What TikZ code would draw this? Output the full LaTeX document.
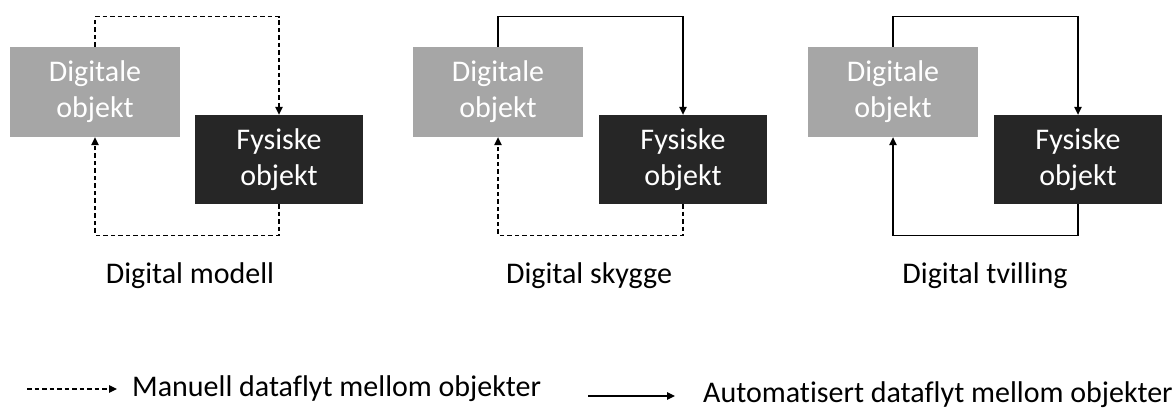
\documentclass[tikz,border=0pt]{standalone}
\usepackage{fontspec}
\setmainfont{Carlito}[Ligatures=NoCommon]
\usetikzlibrary{arrows.meta}
\definecolor{boxgray}{HTML}{A6A6A6}
\definecolor{boxdark}{HTML}{262626}
\begin{document}
\begin{tikzpicture}[x=1pt,y=-1pt,
  txt/.style={font=\fontsize{30}{36}\selectfont},
  digbox/.style={fill=boxgray,text=white,minimum width=170pt,minimum height=90pt,inner sep=0pt,align=center,txt},
  fysbox/.style={fill=boxdark,text=white,minimum width=168pt,minimum height=89pt,inner sep=0pt,align=center,txt},
  auto flow/.style={line width=1.1pt,-{Triangle[length=8pt,width=7.5pt]}},
  manual flow/.style={auto flow,dash pattern=on 4.5pt off 3pt},
  lbl/.style={txt,inner sep=0pt,anchor=base}
]
\useasboundingbox (0,0) rectangle (1176,409);
\fill[white] (0,0) rectangle (1176,409);

% panel 1
\node[digbox] (g1) at (95,92) {Digitale\\objekt};
\node[fysbox] (f1) at (279,159.5) {Fysiske\\objekt};
\draw[manual flow] (g1.north) -- ++(0,-30) -| (f1.north);
\draw[manual flow] (f1.south) -- ++(0,31) -| (g1.south);
\node[lbl] (t1) at (190,283) {Digital modell};

% panel 2
\node[digbox] (g2) at (498,92) {Digitale\\objekt};
\node[fysbox] (f2) at (683,159.5) {Fysiske\\objekt};
\draw[auto flow] (g2.north) -- ++(0,-30) -| (f2.north);
\draw[manual flow] (f2.south) -- ++(0,31) -| (g2.south);
\node[lbl] (t2) at (589,283) {Digital skygge};

% panel 3
\node[digbox] (g3) at (893,92) {Digitale\\objekt};
\node[fysbox] (f3) at (1078,159.5) {Fysiske\\objekt};
\draw[auto flow] (g3.north) -- ++(0,-30) -| (f3.north);
\draw[auto flow] (f3.south) -- ++(0,31) -| (g3.south);
\node[lbl] (t3) at (985,283) {Digital tvilling};

% legend
\coordinate (m1) at (27,389);
\coordinate (m2) at (117,389);
\draw[manual flow] (m1) -- (m2);
\node[txt,inner sep=0pt,anchor=base west] (lm) at (132,396) {Manuell dataflyt mellom objekter};
\coordinate (a1) at (588,396);
\coordinate (a2) at (675,396);
\draw[auto flow] (a1) -- (a2);
\node[txt,inner sep=0pt,anchor=base west] (la) at (703,402) {Automatisert dataflyt mellom objekter};
\end{tikzpicture}
\end{document}
